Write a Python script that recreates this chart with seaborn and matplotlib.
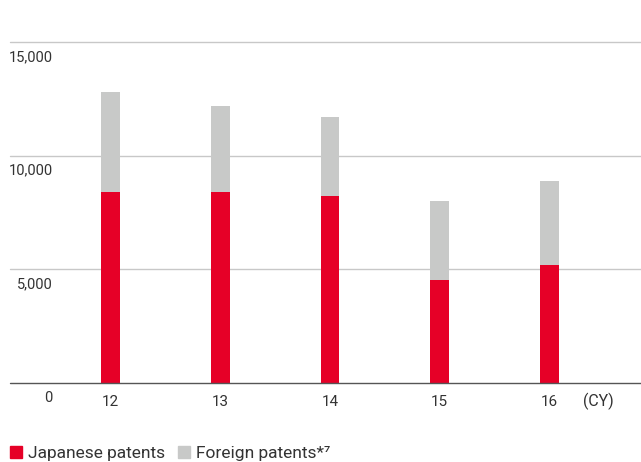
import matplotlib
matplotlib.use("Agg")
import matplotlib.pyplot as plt
import matplotlib.transforms as mtransforms
from matplotlib.patches import Patch
import seaborn as sns

# data
years = ["12", "13", "14", "15", "16"]
japanese = [8400, 8400, 8240, 4520, 5180]
foreign = [4410, 3790, 3470, 3480, 3700]
y_ticks = [0, 5000, 10000, 15000]
y_labels = ["0", "5,000", "10,000", "15,000"]

red = "#e60027"
grey = "#c8c9c8"
txt = "#333333"

sns.set_theme(style="white")
plt.rcParams["font.family"] = ["Roboto", "DejaVu Sans"]

fig = plt.figure(figsize=(6.41, 4.62), dpi=100)
W, H = 641, 462
ax = fig.add_axes([10 / W, (H - 382.7) / H, 631 / W, (382.7 - 42.3) / H])

totals = [j + f for j, f in zip(japanese, foreign)]
sns.barplot(x=years, y=totals, color=grey, saturation=1, width=0.173,
            errorbar=None, ax=ax, zorder=3, linewidth=0)
sns.barplot(x=years, y=japanese, color=red, saturation=1, width=0.173,
            errorbar=None, ax=ax, zorder=4, linewidth=0)

ax.set_xlim(-0.916, 4.834)
ax.set_ylim(0, 15000)
for s in ax.spines.values():
    s.set_visible(False)
ax.set_xlabel("")
ax.set_ylabel("")
ax.set_yticks([])

# grid lines
for v in y_ticks[1:]:
    ax.axhline(v, color="#c8c8c8", lw=1, zorder=1, clip_on=False)
ax.axhline(0, color="#555555", lw=1, zorder=5, clip_on=False)

# y labels sit just below their lines, right aligned
off = mtransforms.offset_copy(ax.transData, fig=fig, y=-8, units="dots")
blend = mtransforms.blended_transform_factory(
    mtransforms.IdentityTransform(), off)
for v, lab in zip(y_ticks, y_labels):
    ax.text(52.5, v, lab, transform=blend,
            ha="right", va="top", fontsize=10.5, color=txt)

ax.tick_params(axis="x", length=0, pad=9, labelsize=11, labelcolor=txt)
fig.text(583 / W, (H - 401) / H, "(CY)", ha="left", va="center",
         fontsize=11.5, color=txt)

handles = [Patch(color=red, label="Japanese patents"),
           Patch(color=grey, label="Foreign patents*\u2077")]
fig.legend(handles=handles, loc="lower left",
           bbox_to_anchor=(10 / W, 1 / H), ncol=2, frameon=False,
           fontsize=12.5, labelcolor=txt, handlelength=0.68,
           handleheight=0.68, handletextpad=0.35, columnspacing=0.75,
           borderaxespad=0, borderpad=0)

fig.savefig("out.png", dpi=100)
